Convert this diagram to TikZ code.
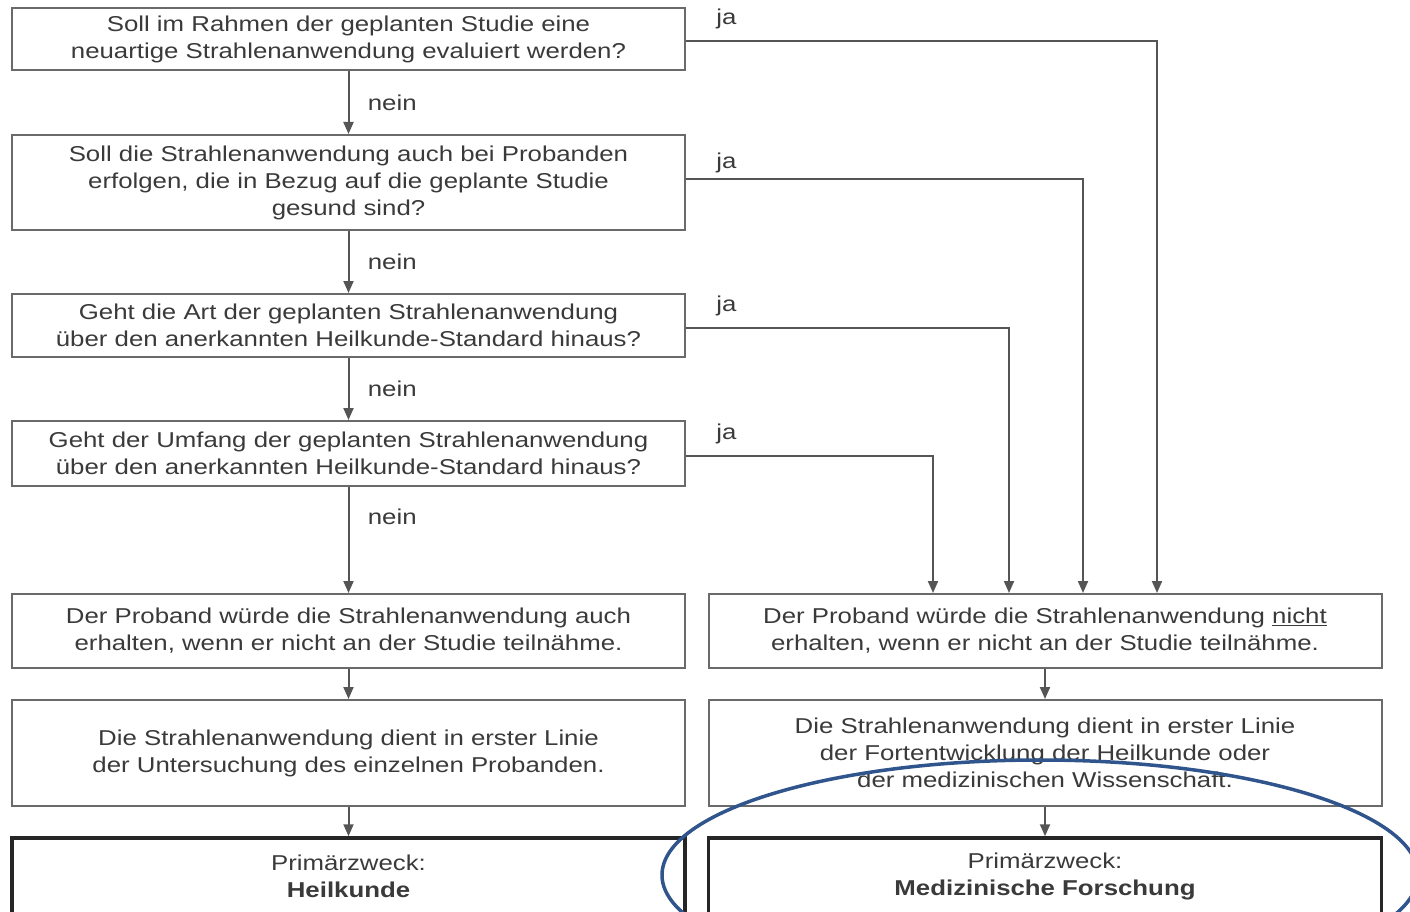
\documentclass[tikz,border=0pt]{standalone}
\usepackage{fontspec}
\setmainfont{Liberation Sans}[FakeStretch=1.2]
\usepackage{tikz}
\usetikzlibrary{arrows.meta}

\definecolor{rahmen}{HTML}{6A6A6A}
\definecolor{linie}{HTML}{555555}
\definecolor{schrift}{HTML}{3A3A3A}
\definecolor{oval}{HTML}{2F558C}

\begin{document}
\begin{tikzpicture}[x=1pt, y=-1pt, >={Triangle[length=12pt,width=10pt]},
        box/.style={draw=rahmen, line width=2pt, minimum width=673pt, inner sep=0pt,
            align=center, text=schrift, font=\fontsize{21.5}{27}\selectfont},
        endbox/.style={box, draw=black!85, line width=3.5pt},
        pfeil/.style={->, draw=linie, line width=2pt},
        nein/.style={anchor=west, xshift=15pt, text=schrift, font=\fontsize{21.5}{27}\selectfont},
        ja/.style={anchor=west, xshift=26pt, yshift=22pt, text=schrift, font=\fontsize{21.5}{27}\selectfont}]
        \useasboundingbox (0,0) rectangle (1410,912);

        % Fragen
        \node[box, minimum height=62pt] (frage1) at (348.5,39)
            {Soll im Rahmen der geplanten Studie eine\\neuartige Strahlenanwendung evaluiert werden?};
        \node[box, minimum height=95pt] (frage2) at (348.5,182.5)
            {Soll die Strahlenanwendung auch bei Probanden\\erfolgen, die in Bezug auf die geplante Studie\\gesund sind?};
        \node[box, minimum height=63pt] (frage3) at (348.5,325.5)
            {Geht die Art der geplanten Strahlenanwendung\\über den anerkannten Heilkunde-Standard hinaus?};
        \node[box, minimum height=65pt] (frage4) at (348.5,453.5)
            {Geht der Umfang der geplanten Strahlenanwendung\\über den anerkannten Heilkunde-Standard hinaus?};

        % Heilkunde
        \node[box, minimum height=74pt] (links1) at (348.5,631)
            {Der Proband würde die Strahlenanwendung auch\\erhalten, wenn er nicht an der Studie teilnähme.};
        \node[box, minimum height=106pt] (links2) at (348.5,753)
            {Die Strahlenanwendung dient in erster Linie\\der Untersuchung des einzelnen Probanden.};
        \node[endbox, minimum height=76pt] (heilkunde) at (348.5,876)
            {Primärzweck:\\\textbf{Heilkunde}};

        % Forschung
        \node[box, minimum height=74pt] (rechts1) at (1045,631)
            {Der Proband würde die Strahlenanwendung \underline{nicht}\\erhalten, wenn er nicht an der Studie teilnähme.};
        \node[box, minimum height=106pt] (rechts2) at (1045,753)
            {Die Strahlenanwendung dient in erster Linie\\der Fortentwicklung der Heilkunde oder\\der medizinischen Wissenschaft.};
        \node[endbox, minimum height=76pt] (forschung) at (1045,876)
            {Primärzweck:\\\textbf{Medizinische Forschung}};

        % nein
        \draw[pfeil] (frage1) -- (frage2) node[nein, midway] {nein};
        \draw[pfeil] (frage2) -- (frage3) node[nein, midway] {nein};
        \draw[pfeil] (frage3) -- (frage4) node[nein, midway] {nein};
        \draw[pfeil] (frage4) -- (links1) node[nein, pos=.28] {nein};
        \draw[pfeil] (links1) -- (links2);
        \draw[pfeil] (links2) -- (heilkunde);

        % ja
        \draw[pfeil] ([yshift=-2pt]frage1.east) node[ja] {ja} -| ([xshift=112pt]rechts1.north);
        \draw[pfeil] ([yshift=3.5pt]frage2.east) node[ja, yshift=-6pt] {ja} -| ([xshift=38pt]rechts1.north);
        \draw[pfeil] ([yshift=-2.5pt]frage3.east) node[ja] {ja} -| ([xshift=-36pt]rechts1.north);
        \draw[pfeil] ([yshift=-2.5pt]frage4.east) node[ja] {ja} -| ([xshift=-112pt]rechts1.north);
        \draw[pfeil] (rechts1) -- (rechts2);
        \draw[pfeil] (rechts2) -- (forschung);

        % Markierung
        \draw[oval, line width=3.5pt] (1040,875) ellipse [x radius=378pt, y radius=115pt];
    \end{tikzpicture}
\end{document}
